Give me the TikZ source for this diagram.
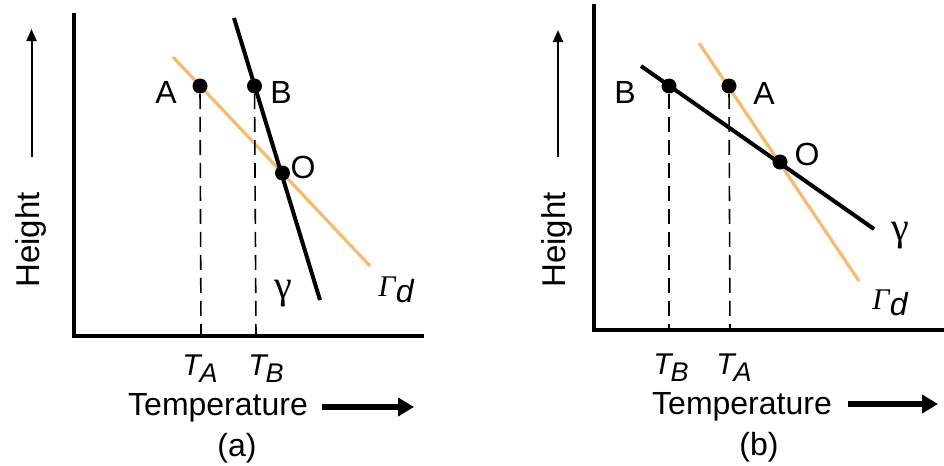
\documentclass[tikz,border=0pt]{standalone}
\usepackage{fontspec}
\setmainfont{Liberation Sans}
\newfontfamily\serifgr{Liberation Serif}
\usetikzlibrary{arrows.meta}
\definecolor{lapse}{RGB}{248,186,112}
\newcommand\tlab[1]{\fontsize{15}{16}\selectfont\itshape T\kern-0.5pt\raisebox{-0.45ex}{\fontsize{13.5}{14}\selectfont\itshape #1}}
\newcommand\gammad{{\fontsize{15}{16}\selectfont\serifgr\itshape Γ}\kern0.3pt\raisebox{-0.3em}{\fontsize{16}{17}\selectfont\itshape d}}
\begin{document}
\begin{tikzpicture}[x=0.5pt,y=-0.5pt,
  axisline/.style={line width=2.2pt},
  envline/.style={line width=2pt},
  dryline/.style={line width=1.6pt, draw=lapse},
  dropline/.style={line width=0.8pt, dash pattern=on 7.5pt off 4pt},
  dot/.style={circle, fill=black, inner sep=0pt, minimum size=7.5pt},
  lbl/.style={font=\fontsize{16}{18}\selectfont, inner sep=0pt},
  glbl/.style={font=\fontsize{20}{21}\selectfont\serifgr, inner sep=0pt},
  hgt/.style={font=\fontsize{16.5}{18}\selectfont, rotate=90, inner sep=0pt},
  uparrow/.style={line width=1pt, -{Triangle[length=6pt,width=5pt]}},
  rarrow/.style={line width=2.6pt, -{Triangle[length=8pt,width=9pt]}},
]
\useasboundingbox (0,0) rectangle (944,466);

% ---------- panel (a) ----------
\coordinate (aO) at (74,336);
\coordinate (aYtop) at (74,13);
\coordinate (aXend) at (424,336);
\draw[axisline] (aYtop) -- (aO) -- (aXend);

\coordinate (aHs) at (31.5,157);
\coordinate (aHe) at (31.5,29);
\draw[uparrow] (aHs) -- (aHe);
\node[hgt] (aHeight) at (31,240) {Height};

\coordinate (aG1) at (173,57);
\coordinate (aG2) at (370,266);
\draw[dryline] (aG1) -- (aG2);
\coordinate (ag1) at (234,18);
\coordinate (ag2) at (320,300);
\draw[envline] (ag1) -- (ag2);

\node[dot] (aA) at (200,86) {};
\node[dot] (aB) at (254.5,86) {};
\node[dot] (aPO) at (282.5,173) {};

\coordinate (aTA) at (201,336);
\coordinate (aTB) at (256,336);
\draw[dropline] (aA) -- (aTA);
\draw[dropline] (aB) -- (aTB);

\node[lbl] (aAl) at (166,92) {A};
\node[lbl] (aBl) at (281,92) {B};
\node[lbl] (aOl) at (303,167) {O};
\node[glbl] (agam) at (283,294) {γ};
\node[inner sep=0pt] (aGam) at (396,290) {\gammad};

\node[inner sep=0pt] (aTAl) at (200,369) {\tlab{A}};
\node[inner sep=0pt] (aTBl) at (266,369) {\tlab{B}};

\node[lbl] (aTemp) at (218,408) {Temperature};
\coordinate (aRs) at (322,407);
\coordinate (aRe) at (414,407);
\draw[rarrow] (aRs) -- (aRe);
\node[lbl] (acap) at (237,448) {(a)};

% ---------- panel (b) ----------
\coordinate (bO) at (594,330);
\coordinate (bYtop) at (594,4);
\coordinate (bXend) at (944,330);
\draw[axisline] (bYtop) -- (bO) -- (bXend);

\coordinate (bHs) at (558,157);
\coordinate (bHe) at (558,30);
\draw[uparrow] (bHs) -- (bHe);
\node[hgt] (bHeight) at (557,240) {Height};

\coordinate (bG1) at (699,43);
\coordinate (bG2) at (859,281);
\draw[dryline] (bG1) -- (bG2);
\coordinate (bg1) at (641,66);
\coordinate (bg2) at (874,229);
\draw[envline] (bg1) -- (bg2);

\node[dot] (bB) at (669,86) {};
\node[dot] (bA) at (729,86) {};
\node[dot] (bPO) at (780,162) {};

\coordinate (bTB) at (669,330);
\coordinate (bTA) at (730,330);
\draw[dropline] (bB) -- (bTB);
\draw[dropline] (bA) -- (bTA);

\node[lbl] (bBl) at (625,92) {B};
\node[lbl] (bAl) at (764,93) {A};
\node[lbl] (bOl) at (807,154) {O};
\node[glbl] (bgam) at (900,236) {γ};
\node[inner sep=0pt] (bGam) at (890,303) {\gammad};

\node[inner sep=0pt] (bTBl) at (671,368) {\tlab{B}};
\node[inner sep=0pt] (bTAl) at (734,368) {\tlab{A}};

\node[lbl] (bTemp) at (742,407) {Temperature};
\coordinate (bRs) at (848,404);
\coordinate (bRe) at (938,404);
\draw[rarrow] (bRs) -- (bRe);
\node[lbl] (bcap) at (759,447) {(b)};
\end{tikzpicture}
\end{document}
